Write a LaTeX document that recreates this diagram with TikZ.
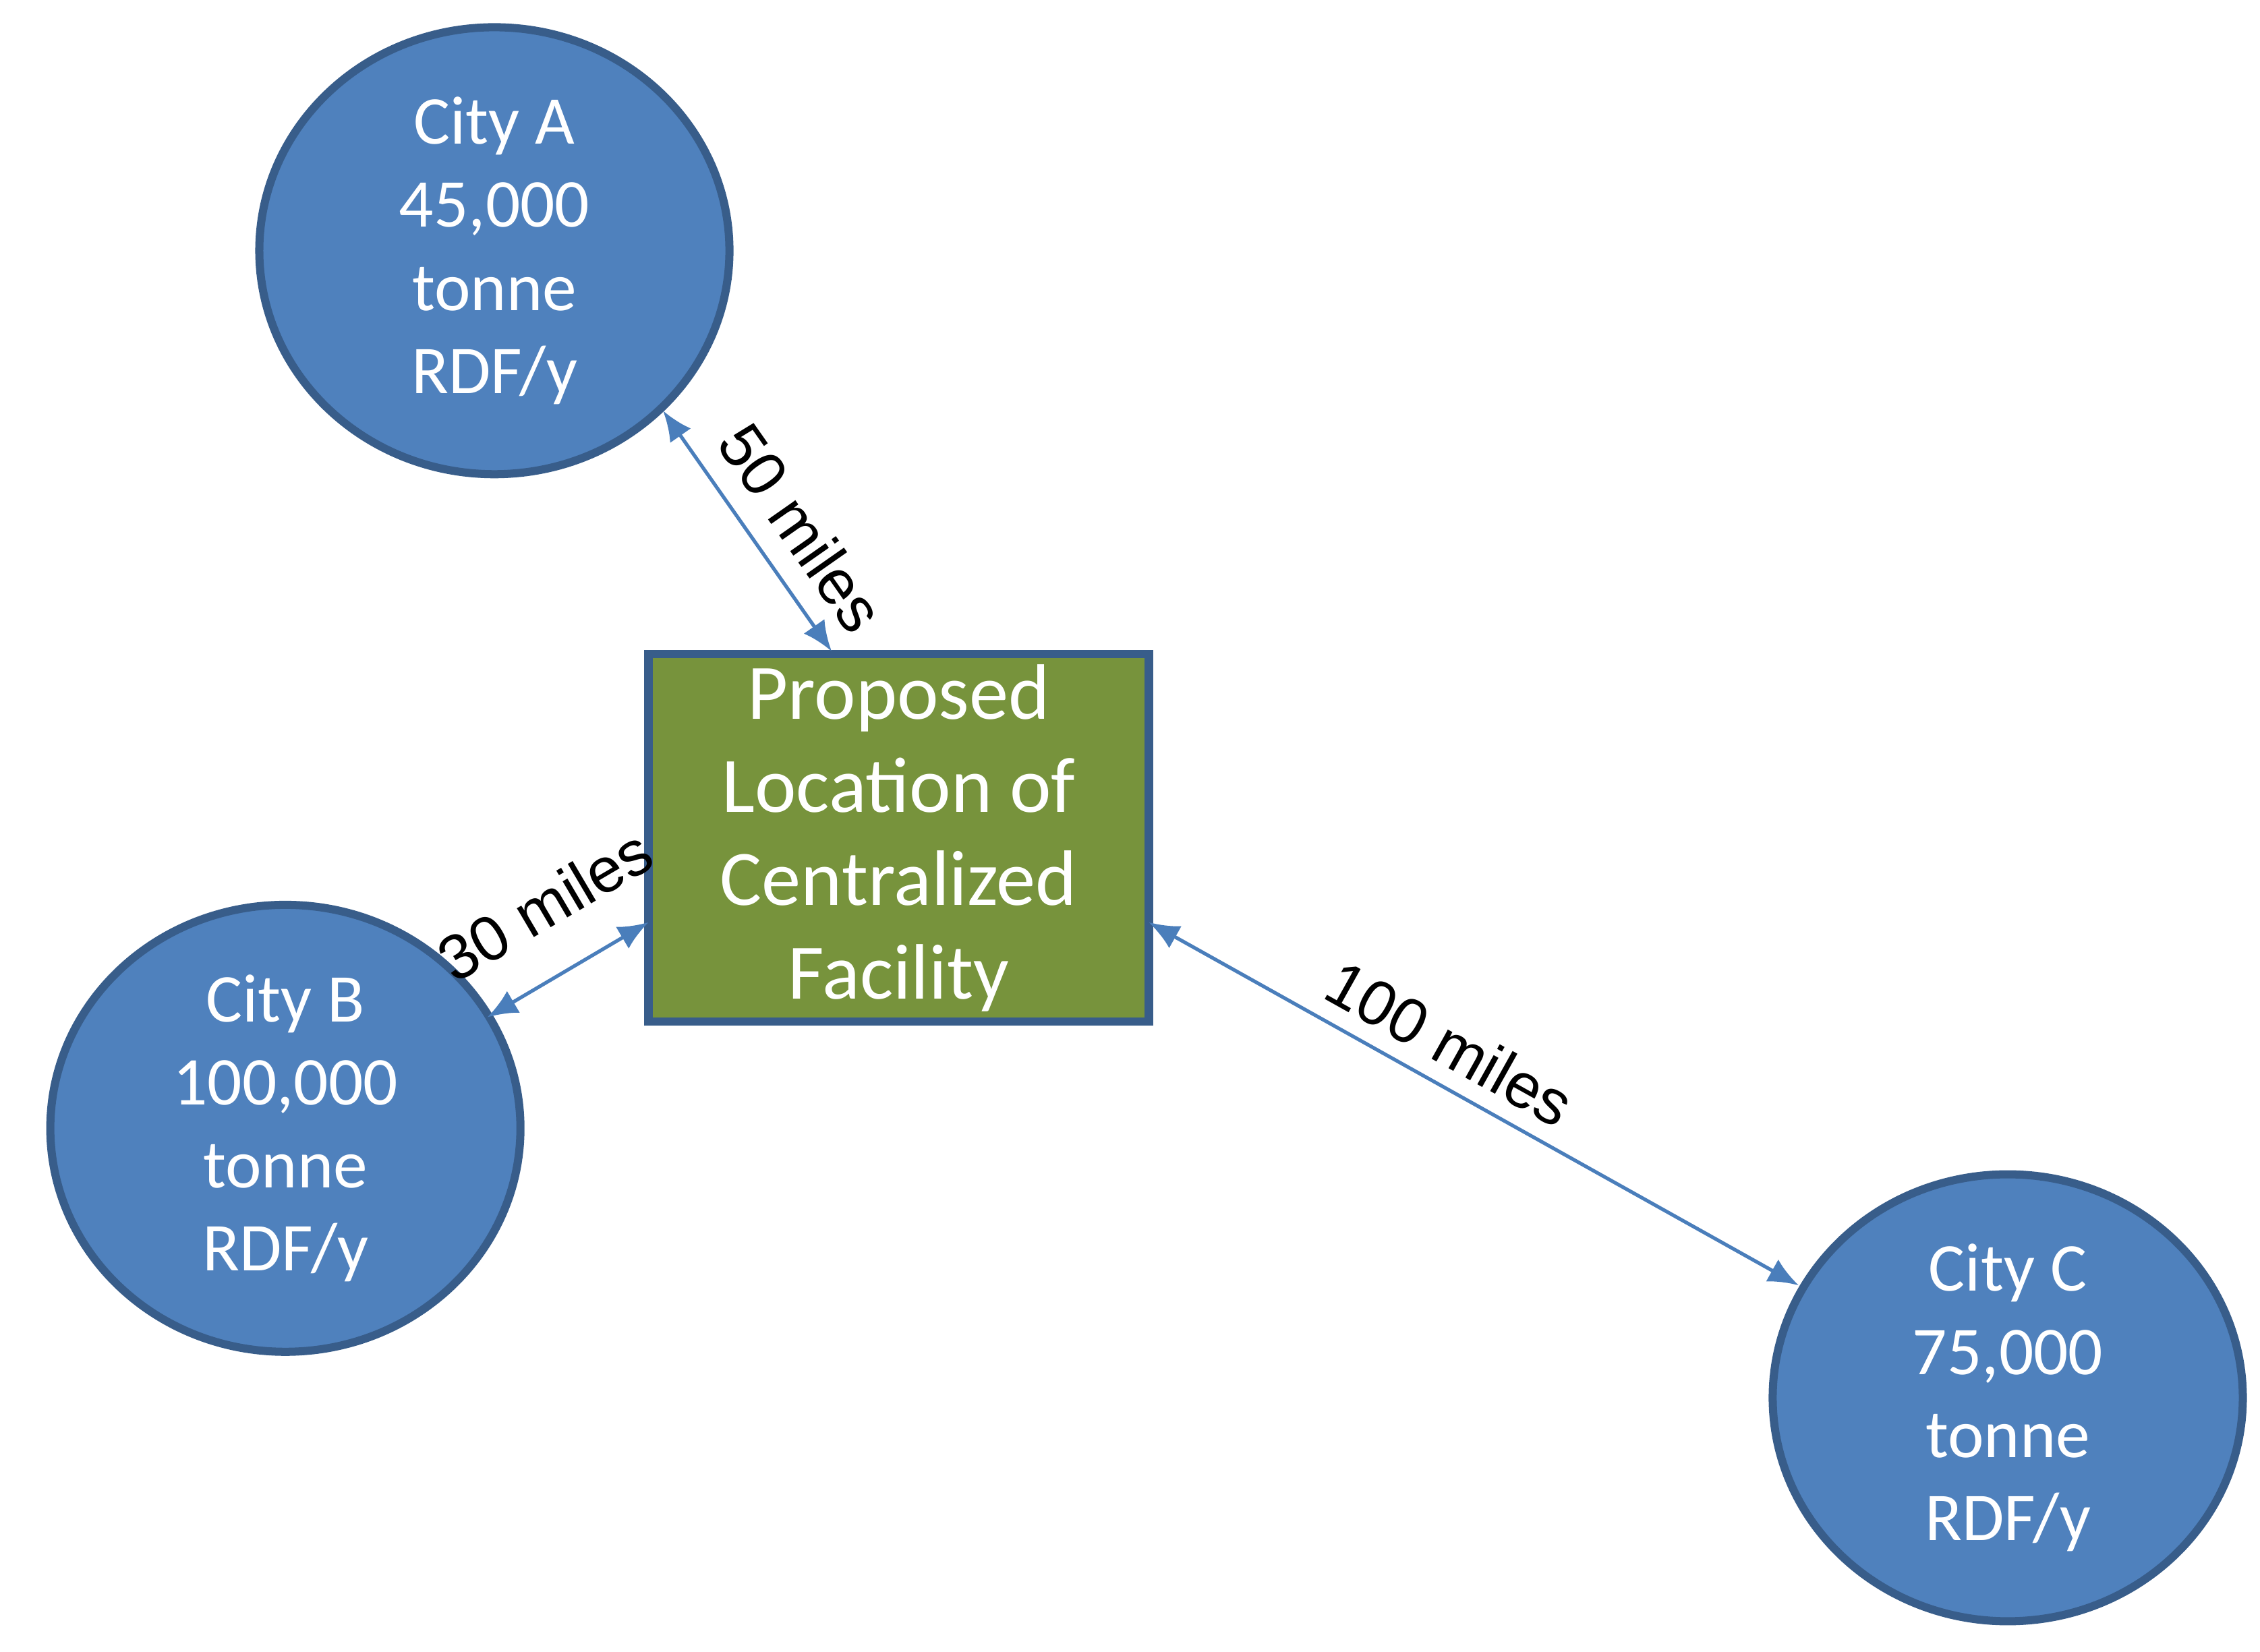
\documentclass[tikz,border=0pt]{standalone}
\usepackage{fontspec}
\setmainfont{Carlito}
\newfontfamily\arialf{Liberation Sans}
\usetikzlibrary{shapes.geometric,arrows.meta}
\definecolor{cityfill}{HTML}{4F81BD}
\definecolor{cityline}{HTML}{385D8A}
\definecolor{boxfill}{HTML}{77933C}
\definecolor{arr}{HTML}{4A7EBB}
\begin{document}
\begin{tikzpicture}[x=0.01cm,y=-0.01cm,
 city/.style={ellipse,fill=cityfill,draw=cityline,line width=1.6pt,minimum width=3.26cm,minimum height=3.1cm,inner sep=-10pt,text=white,align=center,font=\fontsize{13.5}{16.4}\selectfont},
 lnk/.style={draw=arr,line width=0.7pt,{Latex[length=6pt,width=5pt]}-{Latex[length=6pt,width=5pt]}},
 lab/.style={font=\arialf\fontsize{12.5}{15}\selectfont}]
\useasboundingbox (0,0) rectangle (1568,1146);
\node[city] (A) at (343,174) {City A\\45,000\\tonne\\RDF/y};
\node[city] (B) at (198,783) {City B\\100,000\\tonne\\RDF/y};
\node[city] (C) at (1393,970) {City C\\75,000\\tonne\\RDF/y};
\node[draw=cityline,line width=1.6pt,fill=boxfill,minimum width=3.47cm,minimum height=2.55cm,inner sep=0pt,text=white,align=center,font=\fontsize{15.5}{18.4}\selectfont] (F) at (623.5,581.5) {Proposed\\Location of\\Centralized\\Facility};
\coordinate (fa) at (577,452);
\coordinate (fb) at (450,640);
\coordinate (fc) at (797,640);
\coordinate (ea) at (460,285);
\coordinate (eb) at (338,706);
\coordinate (ec) at (1248,892);
\draw[lnk] (ea) -- (fa);
\draw[lnk] (eb) -- (fb);
\draw[lnk] (fc) -- (ec);
\node[lab,rotate=-55] (la) at (556,366) {50 miles};
\node[lab,rotate=30.5] (lb) at (378,628) {30 miles};
\node[lab,rotate=-29.2] (lc) at (1006,724) {100 miles};
\end{tikzpicture}
\end{document}
